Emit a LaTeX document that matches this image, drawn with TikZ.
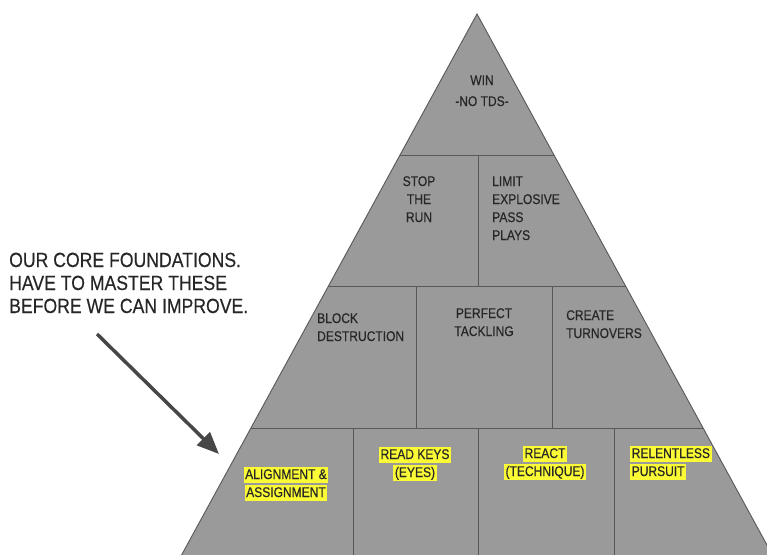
\documentclass[tikz,border=0pt]{standalone}
\usepackage{fontspec}
\usetikzlibrary{arrows.meta}
\newfontfamily\pyrfont{Liberation Sans}[FakeStretch=0.86,FakeBold=0.3]
\definecolor{slabgray}{RGB}{154,154,154}
\definecolor{edgegray}{RGB}{88,88,88}
\definecolor{inkgray}{RGB}{38,38,38}
\definecolor{hiyellow}{RGB}{250,250,55}
\newcommand{\hilite}[1]{{\setlength{\fboxsep}{1.5pt}\colorbox{hiyellow}{\rule[-2pt]{0pt}{12.5pt}#1}}}
\tikzset{
  slab/.style={fill=slabgray,draw=edgegray,line width=0.9pt},
  divider/.style={draw=edgegray,line width=0.9pt},
  tiertext/.style={font=\pyrfont\fontsize{14}{18}\selectfont,text=inkgray,inner sep=0pt},
  basetext/.style={tiertext,font=\pyrfont\fontsize{14}{18}\selectfont},
  notetext/.style={font=\pyrfont\fontsize{20.5}{23}\selectfont,text=inkgray,inner sep=0pt,align=left},
  pointer/.style={-{Triangle[length=22pt,width=18pt]},line width=3.5pt,draw=black!72}
}

\begin{document}
\begin{tikzpicture}[x=1pt,y=-1pt]
  \useasboundingbox[fill=white] (0,0) rectangle (767,554);
  % pyramid body, cut off by the page edge
  \begin{scope}
    \clip (0,0) rectangle (767,554);
    \coordinate (apex) at (477,14);
    \path[slab] (apex) -- (157,600) -- (797,600) -- cycle;
    % tier separators
    \draw[divider] (400,155) -- (554,155);
    \draw[divider] (328.5,286) -- (625.5,286);
    \draw[divider] (250.9,428) -- (703.1,428);
    % cell walls
    \draw[divider] (478,155) -- (478,286);
    \draw[divider] (416,286) -- (416,428);
    \draw[divider] (552,286) -- (552,428);
    \draw[divider] (353,428) -- (353,600);
    \draw[divider] (478,428) -- (478,600);
    \draw[divider] (614,428) -- (614,600);
  \end{scope}

  % top tier (base anchor sits on the last line)
  \node[tiertext,align=center,anchor=base] (win) at (482,106) {WIN\\[3pt]-NO TDS-};
  % second tier
  \node[tiertext,align=center,anchor=base] (stoprun) at (419,222) {STOP\\THE\\RUN};
  \node[tiertext,align=left,anchor=base west] (limitpass) at (492,240) {LIMIT\\EXPLOSIVE\\PASS\\PLAYS};
  % third tier
  \node[tiertext,align=left,anchor=base west] (blockd) at (317,341) {BLOCK\\DESTRUCTION};
  \node[tiertext,align=center,anchor=base] (tackle) at (484,336) {PERFECT\\TACKLING};
  \node[tiertext,align=left,anchor=base west] (turnover) at (566,338) {CREATE\\TURNOVERS};
  % foundation tier
  \node[basetext,align=center,anchor=base] (alignas) at (286,497) {\hilite{ALIGNMENT \&}\\\hilite{ASSIGNMENT}};
  \node[basetext,align=center,anchor=base] (readkeys) at (415,477) {\hilite{READ KEYS}\\\hilite{(EYES)}};
  \node[basetext,align=center,anchor=base] (react) at (545,476) {\hilite{REACT}\\\hilite{(TECHNIQUE)}};
  \node[basetext,align=left,anchor=base west] (pursuit) at (630,476) {\hilite{RELENTLESS}\\\hilite{PURSUIT}};

  % side note with its pointer
  \node[notetext,anchor=base west] (note) at (9,313) {OUR CORE FOUNDATIONS.\\HAVE TO MASTER THESE\\BEFORE WE CAN IMPROVE.};
  \coordinate (tail) at (97,334);
  \coordinate (tip) at (219,454);
  \draw[pointer] (tail) -- (tip);
\end{tikzpicture}
\end{document}
